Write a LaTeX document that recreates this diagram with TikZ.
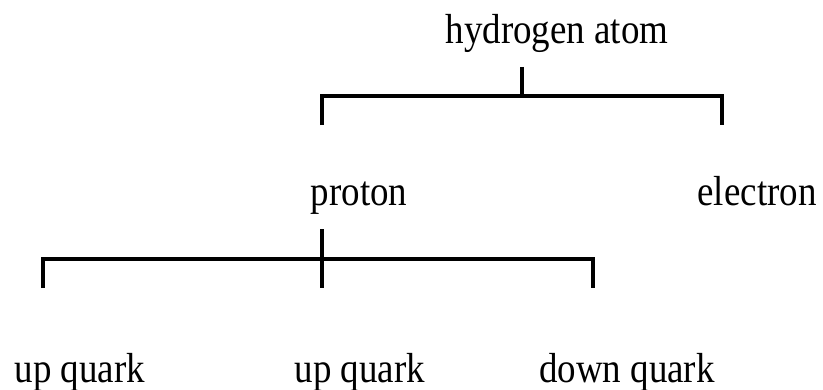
\documentclass[tikz,border=0pt]{standalone}
\usepackage{fontspec}
\setmainfont[FakeStretch=0.88]{Liberation Serif}
\usepackage{tikz}
\usetikzlibrary{positioning}
\tikzset{
  lbl/.style={anchor=base, inner sep=0pt, font=\fontsize{21}{25}\selectfont},
  brace/.style={line width=2pt, line join=miter, draw=black}
}
\begin{document}
\begin{tikzpicture}[x=0.5pt, y=-0.5pt]
\useasboundingbox (0,0) rectangle (823,390);
% labels
\node[lbl] (atom) at (557,44) {hydrogen atom};
\node[lbl] (proton) at (359,205) {proton};
\node[lbl] (electron) at (757,205) {electron};
\node[lbl] (uq1) at (80,382) {up quark};
\node[lbl] (uq2) at (360,382) {up quark};
\node[lbl] (dq) at (627,382) {down quark};
% bracket points
\coordinate (hTop) at (522,67);  \coordinate (hBar) at (522,96);
\coordinate (hL) at (322,96);    \coordinate (hR) at (722,96);
\coordinate (hLend) at (322,125); \coordinate (hRend) at (722,125);
\coordinate (pTop) at (322,229); \coordinate (pBot) at (322,288);
\coordinate (pL) at (43,259);    \coordinate (pR) at (593,259);
\coordinate (pLend) at (43,288); \coordinate (pRend) at (593,288);
% brackets
\draw[brace] (hLend) -- (hL) -- (hR) -- (hRend);
\draw[brace] (hTop) -- (hBar);
\draw[brace] (pLend) -- (pL) -- (pR) -- (pRend);
\draw[brace] (pTop) -- (pBot);
\end{tikzpicture}
\end{document}
